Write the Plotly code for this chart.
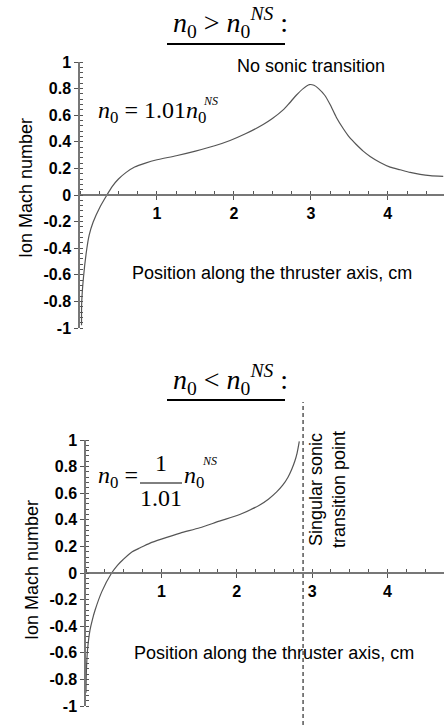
import plotly.graph_objects as go

W, H = 444, 725

# ---- data ----
top_x = [0.02, 0.022, 0.045, 0.087, 0.12, 0.17, 0.26, 0.35, 0.42, 0.5, 0.6, 0.71, 0.85, 1.0, 1.25,
         1.5, 1.75, 1.95, 2.15, 2.38, 2.5, 2.64, 2.72, 2.81, 2.9, 2.98, 3.04, 3.1, 3.18, 3.25,
         3.33, 3.42, 3.5, 3.59, 3.68, 3.77, 3.9, 4.03, 4.16, 4.29, 4.42, 4.55, 4.72]
top_y = [-0.98, -0.81, -0.62, -0.41, -0.3, -0.205, -0.09, 0.0, 0.065, 0.12, 0.17, 0.21, 0.24,
         0.265, 0.295, 0.33, 0.37, 0.41, 0.46, 0.53, 0.575, 0.64, 0.69, 0.75, 0.80, 0.83, 0.825,
         0.80, 0.75, 0.68, 0.585, 0.50, 0.435, 0.38, 0.33, 0.29, 0.245, 0.21, 0.19, 0.17, 0.155,
         0.145, 0.14]

bot_x = [0.0, 0.005, 0.02, 0.053, 0.085, 0.12, 0.21, 0.34, 0.42, 0.49, 0.6, 0.72, 0.85, 1.0, 1.25,
         1.51, 1.77, 2.04, 2.3, 2.42, 2.53, 2.61, 2.68, 2.73, 2.77, 2.8, 2.83]
bot_y = [-0.9, -0.74, -0.58, -0.43, -0.35, -0.28, -0.14, 0.0, 0.06, 0.10, 0.155, 0.19, 0.225,
         0.255, 0.30, 0.34, 0.39, 0.44, 0.51, 0.555, 0.61, 0.66, 0.72, 0.78, 0.84, 0.9, 0.99]

singular_x = 2.88

x_tickvals = [1, 2, 3, 4]
x_ticktext = ["1", "2", "3", "4"]
y_tickvals = [1, 0.8, 0.6, 0.4, 0.2, 0, -0.2, -0.4, -0.6, -0.8, -1]
y_ticktext = ["1", "0.8", "0.6", "0.4", "0.2", "0", "-0.2", "-0.4", "-0.6", "-0.8", "-1"]

x_label = "Position along the thruster axis, cm"
y_label = "Ion Mach number"


def px(x):
    return x / W


def py(y):
    return 1 - y / H


SANS = "Liberation Sans"
SERIF = "Liberation Serif"
AX = "#777777"
TK = "#555555"

fig = go.Figure()
fig.add_trace(go.Scatter(x=top_x, y=top_y, mode="lines", xaxis="x", yaxis="y",
                         line=dict(color="#555555", width=1.2, shape="spline", smoothing=0.7),
                         hoverinfo="skip", showlegend=False))
fig.add_trace(go.Scatter(x=bot_x, y=bot_y, mode="lines", xaxis="x2", yaxis="y2",
                         line=dict(color="#555555", width=1.2, shape="spline", smoothing=0.7),
                         hoverinfo="skip", showlegend=False))


def xax(domain, rng, pos):
    return dict(domain=domain, range=rng, anchor="free", position=pos, automargin=False,
                showline=True, linecolor=AX, linewidth=1.5,
                ticks="outside", ticklen=4, tickcolor=TK, tickwidth=1,
                tickvals=x_tickvals, ticktext=x_ticktext,
                tickfont=dict(family=SANS, size=16, color="black", weight="bold"),
                showgrid=False, zeroline=False, fixedrange=True,
                minor=dict(tickmode="linear", tick0=0, dtick=0.25, ticks="inside",
                           ticklen=3, tickcolor=TK, showgrid=False))


def yax(domain, anchor):
    return dict(domain=domain, range=[-1, 1], anchor=anchor, automargin=False,
                showline=True, linecolor=AX, linewidth=1.5,
                ticks="outside", ticklen=4, tickcolor=TK, tickwidth=1,
                tickvals=y_tickvals, ticktext=y_ticktext,
                tickfont=dict(family=SANS, size=16, color="black", weight="bold"),
                showgrid=False, zeroline=False, fixedrange=True,
                minor=dict(tickmode="linear", tick0=0, dtick=0.04, ticks="inside",
                           ticklen=3, tickcolor=TK, showgrid=False))


fig.update_layout(
    template="none",
    width=W, height=H, margin=dict(l=0, r=0, t=0, b=0, pad=0, autoexpand=False),
    paper_bgcolor="white", plot_bgcolor="white", showlegend=False,
    xaxis=xax([px(80), 1], [0, 4.73], py(195)),
    yaxis=yax([py(328), py(62)], "x"),
    xaxis2=xax([px(86), 1], [0, 4.75], py(573)),
    yaxis2=yax([py(706), py(440)], "x2"),
)

ann = []


def text(x, y, t, size=18, family=SANS, xanchor="center", angle=0, italic=False):
    ann.append(dict(x=px(x), y=py(y), xref="paper", yref="paper", text=t, showarrow=False,
                    xanchor=xanchor, yanchor="middle", textangle=angle,
                    font=dict(family=family, size=size, color="black",
                              style="italic" if italic else "normal")))


# titles
text(230, 23, "<i>n</i><sub>0</sub> &gt; <i>n</i><sub>0</sub><sup><i>NS</i></sup> :", size=28, family=SERIF)
text(230, 379, "<i>n</i><sub>0</sub> &lt; <i>n</i><sub>0</sub><sup><i>NS</i></sup> :", size=28, family=SERIF)

# top panel texts
text(311, 66, "No sonic transition")
text(272, 273, x_label)
text(26, 188, y_label, angle=-90)
text(96, 112, "<i>n</i><sub>0</sub> = 1.01<i>n</i><sub>0</sub>", size=24, family=SERIF, xanchor="left")
text(201, 101, "NS", size=12, family=SERIF, xanchor="left", italic=True)

# bottom panel texts
text(274, 653, x_label)
text(32, 570, y_label, angle=-90)
text(327, 490, "Singular sonic<br>transition point", angle=-90)
text(96, 477, "<i>n</i><sub>0</sub> =", size=24, family=SERIF, xanchor="left")
text(161, 463, "1", size=24, family=SERIF)
text(161, 498, "1.01", size=24, family=SERIF)
text(182, 477, "<i>n</i><sub>0</sub>", size=24, family=SERIF, xanchor="left")
text(200, 461, "NS", size=12, family=SERIF, xanchor="left", italic=True)

fig.update_layout(annotations=ann)

shapes = [
    dict(type="line", xref="paper", yref="paper", x0=px(167), x1=px(285), y0=py(44), y1=py(44),
         line=dict(color="black", width=2)),
    dict(type="line", xref="paper", yref="paper", x0=px(167), x1=px(285), y0=py(400), y1=py(400),
         line=dict(color="black", width=2)),
    dict(type="line", xref="paper", yref="paper", x0=px(140), x1=px(182), y0=py(483), y1=py(483),
         line=dict(color="black", width=1)),
    dict(type="line", xref="x2", yref="paper", x0=singular_x, x1=singular_x, y0=0, y1=py(402),
         line=dict(color="black", width=1, dash="4px,3px")),
]
fig.update_layout(shapes=shapes)

fig.write_html("out.html", config=dict(displayModeBar=False),
               post_script="document.body.style.margin='0';document.body.style.overflow='hidden';")
